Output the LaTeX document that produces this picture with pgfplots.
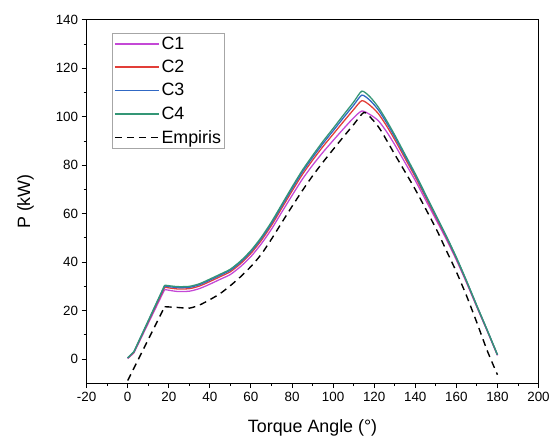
\documentclass[border=0pt]{standalone}
\usepackage{fontspec}
\setmainfont{Liberation Sans}
\usepackage{pgfplots}
\usepackage{pgfplotstable}
\pgfplotsset{compat=1.18}
\definecolor{cA}{RGB}{196,72,214}
\definecolor{cB}{RGB}{226,62,56}
\definecolor{cC}{RGB}{48,104,196}
\definecolor{cD}{RGB}{52,150,118}
\pgfplotstableread{
x c1 c2 c3 c4
0 0.2 0.36 0.44 0.5
3 2.5 2.76 2.9 3.0
18 28.7 29.64 30.14 30.5
24 27.9 28.94 29.5 29.9
30 28.0 29.04 29.6 30.0
35 29.1 30.14 30.7 31.1
40 30.9 31.99 32.58 33.0
45 32.9 33.99 34.58 35.0
50 34.9 36.04 36.66 37.1
55 38.2 39.4 40.04 40.5
60 42.3 43.6 44.3 44.8
65 47.5 48.9 49.66 50.2
70 53.6 55.16 56.0 56.6
75 60.6 62.26 63.16 63.8
80 67.5 69.32 70.3 71.0
85 74.2 76.12 77.16 77.9
90 80.0 82.08 83.2 84.0
95 85.3 87.64 88.9 89.8
100 90.2 92.8 94.2 95.2
105 95.0 97.96 99.56 100.7
110 99.6 102.98 104.8 106.1
114 102.4 106.66 108.96 110.6
118 100.9 104.7 106.74 108.2
122 98.4 101.31 102.88 104.0
126 93.9 96.3 97.6 98.5
130 88.5 90.58 91.7 92.5
135 81.1 82.87 83.82 84.5
140 73.7 75.16 75.94 76.5
145 65.7 66.9 67.54 68.0
150 57.7 58.64 59.14 59.5
155 49.6 50.33 50.72 51.0
160 40.9 41.47 41.78 42.0
165 31.4 31.82 32.04 32.2
170 21.4 21.71 21.88 22.0
175 11.6 11.81 11.92 12.0
180 1.5 1.66 1.74 1.8
}\tblC
\pgfplotstableread{
x e
0 -8.9
18 21.6
24 21.3
30 21.0
35 22.3
40 24.5
45 27.0
50 30.3
55 34.0
60 38.2
65 43.2
70 49.5
75 56.3
80 63.0
85 69.5
90 75.6
95 81.2
100 86.5
105 91.7
110 96.8
115 101.8
119 99.0
123 94.7
130 84.5
140 70.0
150 54.0
155 45.0
160 36.0
165 26.0
170 15.0
175 3.5
180 -6.5
}\tblE
\newcommand\series[3]{%
  \addplot[#1, restrict x to domain=0:18] table[x=x,y=#2] {#3};
  \addplot[#1, smooth, tension=0.4, restrict x to domain=18:180, forget plot] table[x=x,y=#2] {#3};
}
\begin{document}
\begin{tikzpicture}
\begin{axis}[
  scale only axis,
  width=454bp, height=365bp,
  xmin=-20, xmax=200, ymin=-10, ymax=140,
  xtick={-20,0,...,200}, ytick={0,20,...,140},
  minor x tick num=1, minor y tick num=1,
  tick align=outside, xtick pos=bottom, ytick pos=left,
  major tick length=5bp, minor tick length=3bp,
  axis line style={line width=1.1pt},
  every tick/.style={black, line width=0.9pt},
  /pgf/number format/assume math mode=true,
  ticklabel style={font=\fontsize{13.5}{13.5}\selectfont},
  xlabel={Torque Angle (°)}, ylabel={P (kW)},
  label style={font=\fontsize{18}{18}\selectfont},
  xlabel style={at={(axis description cs:0.5,-0.123)}, anchor=center},
  ylabel style={at={(axis description cs:-0.135,0.5)}, anchor=center},
  legend style={at={(axis description cs:0.057,0.964)}, anchor=north west,
    draw=gray!70, line width=0.6pt, font=\fontsize{18}{18}\selectfont,
    inner sep=1.5pt, row sep=5.5pt, cells={anchor=west}},
  legend image code/.code={\draw[#1, line width=1.6pt] (0bp,0bp) -- (44bp,0bp);},
  clip=false,
]
\series{cA, line width=1.3pt}{c1}{\tblC}
\addlegendentry{C1}
\series{cB, line width=1.3pt}{c2}{\tblC}
\addlegendentry{C2}
\series{cC, line width=1.3pt}{c3}{\tblC}
\addlegendentry{C3}
\series{cD, line width=1.3pt}{c4}{\tblC}
\addlegendentry{C4}
\series{black, line width=1.4pt, dash pattern=on 7bp off 5bp}{e}{\tblE}
\addlegendentry{Empiris}
\end{axis}
\path (current axis.south west) ++(-87bp,-59bp) coordinate (bbA);
\path (current axis.north east) ++(12bp,20bp) coordinate (bbB);
\useasboundingbox (bbA) rectangle (bbB);
\end{tikzpicture}
\end{document}
